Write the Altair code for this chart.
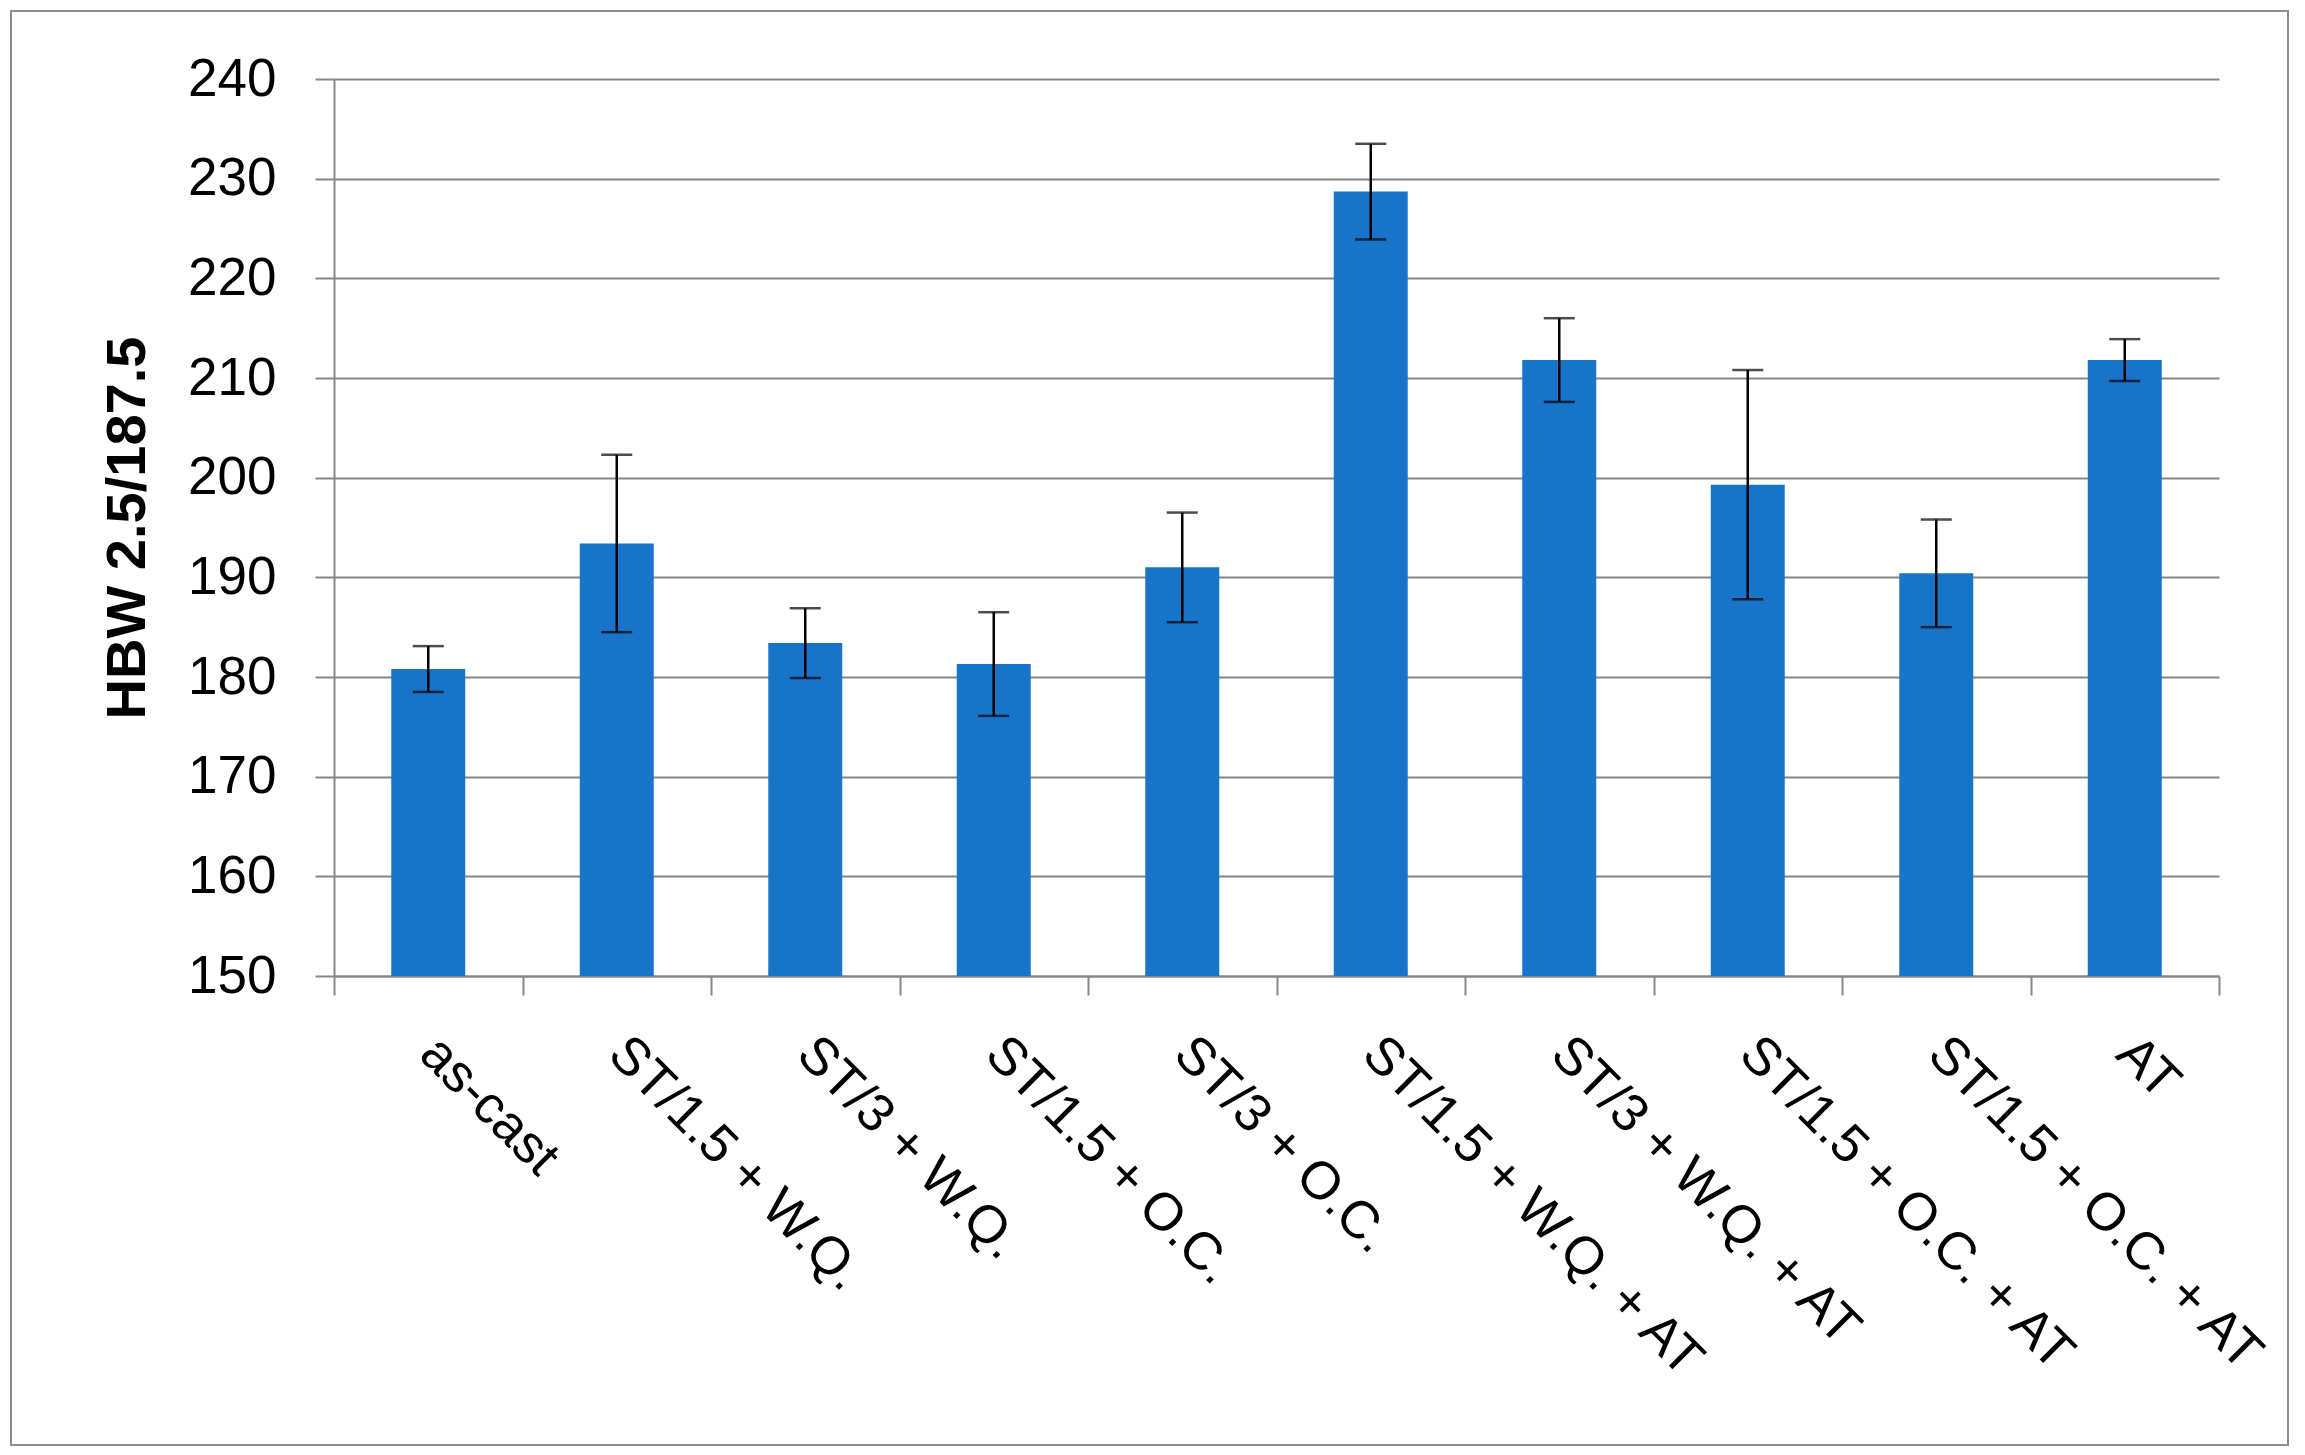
import json
import altair as alt
import pandas as pd

# ---- data ----
categories = [
    "as-cast",
    "ST/1.5 + W.Q.",
    "ST/3 + W.Q.",
    "ST/1.5 + O.C.",
    "ST/3 + O.C.",
    "ST/1.5 + W.Q. + AT",
    "ST/3 + W.Q. + AT",
    "ST/1.5 + O.C. + AT",
    "ST/1.5 + O.C. + AT",
    "AT",
]
hardness = [180.8, 193.4, 183.4, 181.3, 191.0, 228.7, 211.8, 199.3, 190.4, 211.8]
errors = [2.3, 8.9, 3.5, 5.2, 5.5, 4.8, 4.2, 11.5, 5.4, 2.1]
y_ticks = [150, 160, 170, 180, 190, 200, 210, 220, 230, 240]

keys = [str(i) for i in range(len(categories))]
df = pd.DataFrame({
    "key": keys,
    "value": hardness,
    "lo": [v - e for v, e in zip(hardness, errors)],
    "hi": [v + e for v, e in zip(hardness, errors)],
})

FONT = "Liberation Sans"
GRID = "#878787"
BLUE = "#1874C8"
label_expr = json.dumps(categories) + "[toNumber(datum.value)]"

x_enc = alt.X(
    "key:N",
    sort=keys,
    scale=alt.Scale(paddingInner=0, paddingOuter=0),
    axis=alt.Axis(
        title=None,
        labelExpr=label_expr,
        labelAngle=45,
        labelAlign="left",
        labelBaseline="middle",
        labelPadding=50,
        labelFont=FONT,
        labelFontSize=53,
        labelColor="black",
        tickBand="extent",
        tickSize=19,
        tickColor=GRID,
        tickWidth=2,
        domainColor=GRID,
        domainWidth=2,
        grid=False,
        labelOverlap=False,
        labelLimit=0,
    ),
)

y_scale = alt.Scale(domain=[150, 240], nice=False, zero=False)

base = alt.Chart(df)

bars = base.mark_bar(width=74, color=BLUE).encode(
    x=x_enc,
    y=alt.Y(
        "value:Q",
        scale=y_scale,
        axis=alt.Axis(
            title="HBW 2.5/187.5",
            values=y_ticks,
            titleFont=FONT,
            titleFontSize=56,
            titleFontWeight="bold",
            titleColor="black",
            titleAngle=270,
            titleX=-207,
            titleY=448.5,
            titleAlign="center",
            titleBaseline="middle",
            labelFont=FONT,
            labelFontSize=53,
            labelColor="black",
            labelPadding=39,
            tickSize=19,
            tickColor=GRID,
            tickWidth=2,
            domainColor=GRID,
            domainWidth=2,
            gridColor=GRID,
            gridWidth=2,
        ),
    ),
    y2=alt.datum(150),
)

err_rule = base.mark_rule(color="black", strokeWidth=2.5).encode(
    x=alt.X("key:N", sort=keys),
    y=alt.Y("lo:Q", scale=y_scale),
    y2="hi:Q",
)
cap_lo = base.mark_tick(color="black", size=31, thickness=2.5).encode(
    x=alt.X("key:N", sort=keys),
    y=alt.Y("lo:Q", scale=y_scale),
)
cap_hi = base.mark_tick(color="black", size=31, thickness=2.5).encode(
    x=alt.X("key:N", sort=keys),
    y=alt.Y("hi:Q", scale=y_scale),
)

frame = alt.Chart(alt.Data(values=[{"f": 1}])).mark_rect(
    fillOpacity=0, stroke="#8c8c8c", strokeWidth=2
).encode(
    x=alt.value(-323), x2=alt.value(1954), y=alt.value(-68), y2=alt.value(1366)
)

chart = alt.layer(bars, err_rule, cap_lo, cap_hi, frame).properties(
    width=1885,
    height=897,
    padding={"left": 326, "top": 71, "right": 77, "bottom": 477},
    autosize=alt.AutoSizeParams(type="none"),
    background="white",
).configure_view(strokeWidth=0)

chart.save("out.html", embed_options={"renderer": "svg", "actions": False})
